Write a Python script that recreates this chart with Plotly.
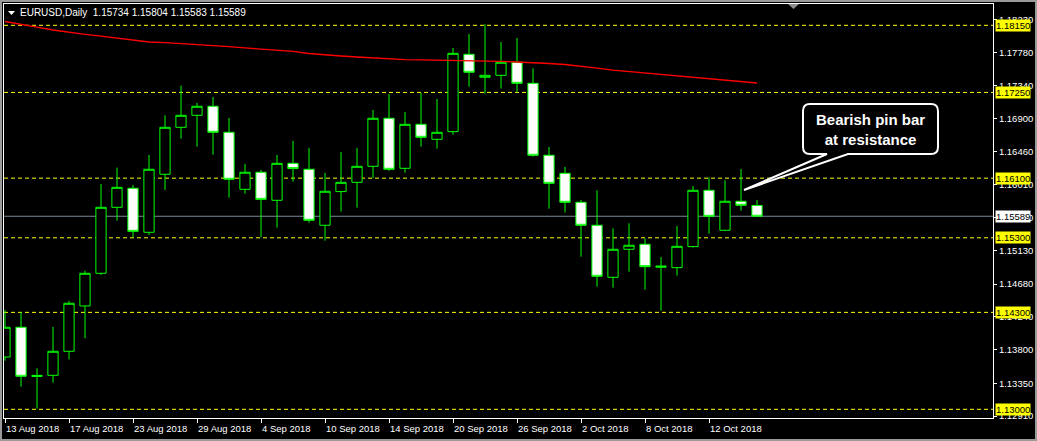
import plotly.graph_objects as go

# ---------------- data ----------------
dates = [
    "2018-08-13", "2018-08-14", "2018-08-15", "2018-08-16", "2018-08-17",
    "2018-08-20", "2018-08-21", "2018-08-22", "2018-08-23", "2018-08-24",
    "2018-08-27", "2018-08-28", "2018-08-29", "2018-08-30", "2018-08-31",
    "2018-09-03", "2018-09-04", "2018-09-05", "2018-09-06", "2018-09-07",
    "2018-09-10", "2018-09-11", "2018-09-12", "2018-09-13", "2018-09-14",
    "2018-09-17", "2018-09-18", "2018-09-19", "2018-09-20", "2018-09-21",
    "2018-09-24", "2018-09-25", "2018-09-26", "2018-09-27", "2018-09-28",
    "2018-10-01", "2018-10-02", "2018-10-03", "2018-10-04", "2018-10-05",
    "2018-10-08", "2018-10-09", "2018-10-10", "2018-10-11", "2018-10-12",
    "2018-10-15", "2018-10-16", "2018-10-17",
]
opens = [
    1.13701, 1.14100, 1.13440, 1.13456, 1.13778, 1.14386, 1.14824, 1.15709,
    1.15964, 1.15374, 1.16152, 1.16782, 1.16943, 1.17064, 1.16715, 1.15950,
    1.16179, 1.15803, 1.16299, 1.16219, 1.15468, 1.15920, 1.16044, 1.16259,
    1.16903, 1.16232, 1.16822, 1.16621, 1.16724, 1.17761, 1.17453, 1.17479,
    1.17654, 1.17372, 1.16407, 1.16165, 1.15776, 1.15468, 1.14770, 1.15146,
    1.15213, 1.14905, 1.14900, 1.15182, 1.15937, 1.15401, 1.15790, 1.15734,
]
highs = [
    1.14332, 1.14301, 1.13550, 1.14104, 1.14453, 1.14860, 1.16022, 1.16241,
    1.16009, 1.16411, 1.16943, 1.17341, 1.17108, 1.17189, 1.16907, 1.16290,
    1.16210, 1.16411, 1.16599, 1.16505, 1.16170, 1.16451, 1.16505, 1.17014,
    1.17229, 1.16988, 1.17242, 1.17162, 1.17846, 1.18034, 1.18165, 1.17926,
    1.17980, 1.17573, 1.16518, 1.16250, 1.15807, 1.15937, 1.15427, 1.15495,
    1.15293, 1.15043, 1.15459, 1.15995, 1.16111, 1.16071, 1.16223, 1.15804,
]
lows = [
    1.13653, 1.13304, 1.13009, 1.13358, 1.13671, 1.13952, 1.14801, 1.15530,
    1.15307, 1.15338, 1.15942, 1.16630, 1.16523, 1.16415, 1.15839, 1.15892,
    1.15307, 1.15436, 1.16053, 1.15503, 1.15262, 1.15651, 1.15705, 1.16098,
    1.16196, 1.16174, 1.16523, 1.16496, 1.16684, 1.17327, 1.17234, 1.17301,
    1.17260, 1.16389, 1.15691, 1.15638, 1.15047, 1.14645, 1.14632, 1.14846,
    1.14605, 1.14323, 1.14793, 1.15170, 1.15356, 1.15390, 1.15664, 1.15583,
]
closes = [
    1.14100, 1.13443, 1.13455, 1.13778, 1.14422, 1.14824, 1.15709, 1.15977,
    1.15387, 1.16219, 1.16782, 1.16943, 1.17064, 1.16715, 1.16085, 1.16179,
    1.15816, 1.16299, 1.16228, 1.15535, 1.15924, 1.16044, 1.16259, 1.16903,
    1.16219, 1.16822, 1.16648, 1.16715, 1.17774, 1.17520, 1.17479, 1.17654,
    1.17372, 1.16407, 1.16031, 1.15776, 1.15468, 1.14784, 1.15146, 1.15200,
    1.14913, 1.14920, 1.15186, 1.15937, 1.15588, 1.15790, 1.15736, 1.15589,
]
ma_values = [
    1.18201, 1.18167, 1.18127, 1.18087, 1.18053, 1.18027, 1.18006, 1.17980,
    1.17946, 1.17926, 1.17917, 1.17906, 1.17892, 1.17879, 1.17863, 1.17846,
    1.17832, 1.17815, 1.17799, 1.17772, 1.17752, 1.17738, 1.17725, 1.17711,
    1.17698, 1.17691, 1.17685, 1.17681, 1.17681, 1.17681, 1.17678, 1.17667,
    1.17658, 1.17651, 1.17638, 1.17624, 1.17604, 1.17577, 1.17550, 1.17530,
    1.17510, 1.17490, 1.17470, 1.17450, 1.17430, 1.17410, 1.17390, 1.17376,
]
level_prices = [1.18150, 1.17250, 1.16100, 1.15300, 1.14300, 1.13000]
bid_price = 1.15589
price_ticks = [1.18230, 1.17780, 1.17340, 1.16900, 1.16460, 1.16010, 1.15570,
               1.15130, 1.14680, 1.14240, 1.13800, 1.13350, 1.12910]
date_tick_vals = ["2018-08-13", "2018-08-17", "2018-08-23", "2018-08-29",
                  "2018-09-04", "2018-09-10", "2018-09-14", "2018-09-20",
                  "2018-09-26", "2018-10-02", "2018-10-08", "2018-10-12"]
date_tick_text = ["13 Aug 2018", "17 Aug 2018", "23 Aug 2018", "29 Aug 2018",
                  "4 Sep 2018", "10 Sep 2018", "14 Sep 2018", "20 Sep 2018",
                  "26 Sep 2018", "2 Oct 2018", "8 Oct 2018", "12 Oct 2018"]
header_text = "EURUSD,Daily  1.15734 1.15804 1.15583 1.15589"
callout_text = "Bearish pin bar<br>at resistance"

# ---------------- layout geometry ----------------
W, H = 1037, 441
PL, PR, PT, PB = 4, 993, 4, 418          # plot area in pixels
FONT = "Liberation Sans, Arial, sans-serif"
GREEN = "#00FF00"
YELLOW = "#FFFF00"


def px(x):
    return (x - PL) / (PR - PL)


def py(y):
    return (PB - y) / (PB - PT)


def P(x, y):
    return f"{px(x):.5f},{py(y):.5f}"


fig = go.Figure()

fig.add_trace(go.Candlestick(
    x=dates, open=opens, high=highs, low=lows, close=closes,
    increasing=dict(line=dict(color=GREEN, width=1), fillcolor="#000000"),
    decreasing=dict(line=dict(color=GREEN, width=1), fillcolor="#FFFFFF"),
    whiskerwidth=0, showlegend=False, hoverinfo="skip",
))
fig.add_trace(go.Scatter(
    x=dates, y=ma_values, mode="lines",
    line=dict(color="#FF0000", width=1.3), showlegend=False, hoverinfo="skip",
))

shapes = []
for lv in level_prices:
    shapes.append(dict(type="line", xref="paper", yref="y", x0=0, x1=1, y0=lv, y1=lv,
                       line=dict(color=YELLOW, width=1, dash="4px,3px"), layer="below"))
shapes.append(dict(type="line", xref="paper", yref="y", x0=0, x1=1, y0=bid_price, y1=bid_price,
                   line=dict(color="#778899", width=1), layer="below"))

# header triangle
shapes.append(dict(type="path", xref="paper", yref="paper",
                   path=f"M {P(8,11)} L {P(15,11)} L {P(11.5,15)} Z",
                   fillcolor="#FFFFFF", line=dict(width=0)))
# shift marker at the top
shapes.append(dict(type="path", xref="paper", yref="paper",
                   path=f"M {P(788,4)} L {P(799,4)} L {P(793.5,9)} Z",
                   fillcolor="#8C8C8C", line=dict(width=0)))

# callout bubble
bl, br, bt, bb, r = 803, 938, 104, 154, 7
bubble = (f"M {P(bl+r,bt)} L {P(br-r,bt)} Q {P(br,bt)} {P(br,bt+r)} "
          f"L {P(br,bb-r)} Q {P(br,bb)} {P(br-r,bb)} "
          f"L {P(848,bb)} L {P(744,190)} L {P(827,bb)} "
          f"L {P(bl+r,bb)} Q {P(bl,bb)} {P(bl,bb-r)} "
          f"L {P(bl,bt+r)} Q {P(bl,bt)} {P(bl+r,bt)} Z")
shapes.append(dict(type="path", xref="paper", yref="paper", path=bubble,
                   fillcolor="#000000", line=dict(color="#FFFFFF", width=2)))

# outer window border
shapes.append(dict(type="rect", xref="paper", yref="paper",
                   x0=px(1), x1=px(1036), y0=py(440), y1=py(1),
                   line=dict(color="#9A9A9A", width=2), fillcolor="rgba(0,0,0,0)"))

annotations = []
annotations.append(dict(xref="paper", yref="paper", x=px(19), y=py(12.5),
                        xanchor="left", yanchor="middle", showarrow=False,
                        text=header_text, font=dict(family=FONT, size=10, color="#FFFFFF"),
                        borderpad=0))
for dv, dt in zip(date_tick_vals, date_tick_text):
    annotations.append(dict(xref="x", yref="paper", x=dv, y=0, xanchor="left", yanchor="top",
                            yshift=-4, showarrow=False, text=dt, borderpad=0,
                            font=dict(family=FONT, size=9.5, color="#FFFFFF")))
for lv in level_prices:
    annotations.append(dict(xref="paper", yref="y", x=1, y=lv, xanchor="left", yanchor="middle",
                            xshift=2, showarrow=False, text=f"{lv:.5f}", bgcolor=YELLOW,
                            borderpad=0, font=dict(family=FONT, size=9.5, color="#000000")))
annotations.append(dict(xref="paper", yref="y", x=1, y=bid_price, xanchor="left", yanchor="middle",
                        xshift=2, showarrow=False, text=f"{bid_price:.5f}", bgcolor="#FFFFFF",
                        borderpad=0, font=dict(family=FONT, size=9.5, color="#000000")))
annotations.append(dict(xref="paper", yref="paper", x=px(870.5), y=py(129),
                        xanchor="center", yanchor="middle", showarrow=False,
                        text=callout_text, align="center",
                        font=dict(family="Arial, Liberation Sans, sans-serif", size=15,
                                  color="#FFFFFF", weight="bold")))

y_bottom = level_prices[-1] - (PB - 409.3) / 7456.0
y_top = level_prices[0] + (25.3 - PT) / 7456.0

fig.update_layout(
    width=W, height=H,
    margin=dict(l=PL, r=W - PR, t=PT, b=H - PB, pad=0),
    paper_bgcolor="#000000", plot_bgcolor="#000000",
    boxgap=0.36, boxgroupgap=0,
    shapes=shapes, annotations=annotations,
    showlegend=False,
    xaxis=dict(type="category", range=[-0.0625, -0.0625 + (PR - PL) / 16.0],
               rangeslider=dict(visible=False), showgrid=False, zeroline=False,
               showline=True, linecolor="#FFFFFF", linewidth=1, mirror=True,
               tickmode="array", tickvals=date_tick_vals, ticktext=[""] * len(date_tick_vals),
               ticks="outside", ticklen=4, tickcolor="#FFFFFF", showticklabels=False,
               fixedrange=True),
    yaxis=dict(range=[y_bottom, y_top], side="right", showgrid=False, zeroline=False,
               showline=True, linecolor="#FFFFFF", linewidth=1, mirror=True,
               tickmode="array", tickvals=price_ticks, ticktext=[f"{t:.5f}" for t in price_ticks],
               ticks="outside", ticklen=3, tickcolor="#FFFFFF",
               tickfont=dict(family=FONT, size=9.5, color="#FFFFFF"), fixedrange=True),
)

fig.write_html(
    "out.html",
    config={"displayModeBar": False},
    post_script="document.body.style.margin='0px';document.body.style.overflow='hidden';document.body.style.background='#000';",
)
